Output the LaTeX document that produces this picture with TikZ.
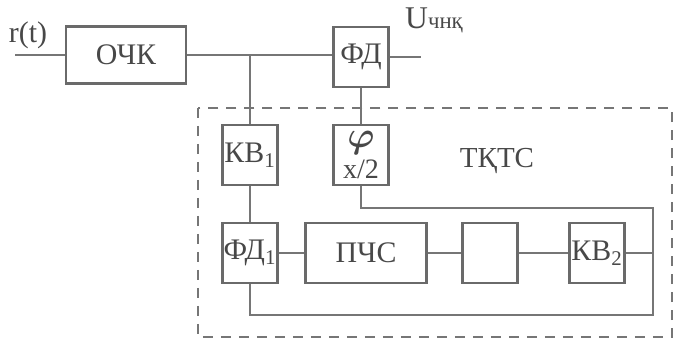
\documentclass[tikz,border=0pt]{standalone}
\usepackage{fontspec}
\setmainfont{Liberation Serif}
\usepackage{xcolor}
\usetikzlibrary{positioning}
\definecolor{boxgray}{HTML}{6A6A6A}
\definecolor{wiregray}{HTML}{767676}
\definecolor{inkgray}{HTML}{484848}
\tikzset{blk/.style={draw=boxgray,line width=1.6pt,text=inkgray,inner sep=0pt,
  minimum width=1.1cm,minimum height=1.2cm,font=\fontsize{17}{19}\selectfont,align=center},
wire/.style={draw=wiregray,line width=.8pt},
frame/.style={draw=wiregray,line width=.9pt,dash pattern=on 2mm off 1.6mm},
lbl/.style={text=inkgray,font=\fontsize{17}{19}\selectfont}}

\begin{document}
\begin{tikzpicture}[x=0.02cm,y=-0.02cm]
\useasboundingbox (0,0) rectangle (686,347);
\draw[frame] (198,108) rectangle (672,337);
\node[blk,minimum width=2.4cm,minimum height=1.14cm] (ochk) at (126,55) {ОЧК};
\node[blk] (fd) at (361,57) {ФД};
\node[blk] (kv1) at (250,155) {КВ\textsubscript{1}};
\node[blk,font=\fontsize{16}{18}\selectfont] (phi) at (361,155) {{\fontsize{21}{18}\selectfont\boldmath$\varphi$}\\x/2};
\node[blk] (fd1) at (250,253) {ФД\textsubscript{1}};
\node[blk,minimum width=2.42cm] (pchs) at (366,253) {ПЧС};
\node[blk] (emp) at (490,253) {};
\node[blk] (kv2) at (597,253) {КВ\textsubscript{2}};
\node[lbl] (rt) at (28,35) {r(t)};
\node[lbl,font=\fontsize{18}{20}\selectfont] (uchnk) at (434,20) {U{\fontsize{13}{15}\selectfont чнқ}};
\node[lbl,font=\fontsize{16.5}{18}\selectfont] (tktc) at (497,161) {ТҚТС};
\coordinate (in) at (15,55);
\coordinate (jn) at (250,55);
\coordinate (out) at (421,57);
\coordinate (rtop) at (653,208);
\coordinate (rbot) at (653,315);
\draw[wire] (in) -- (ochk);
\draw[wire] (ochk.east) -- (ochk.east -| fd.west);
\draw[wire] (jn) -- (kv1);
\draw[wire] (fd) -- (out);
\draw[wire] (fd) -- (phi);
\draw[wire] (kv1) -- (fd1);
\draw[wire] (phi.south) |- (rtop) -- (rbot) -| (fd1.south);
\draw[wire] (kv2.east) -- (kv2.east -| rtop);
\foreach \a/\b in {fd1/pchs,pchs/emp,emp/kv2} \draw[wire] (\a) -- (\b);
\end{tikzpicture}
\end{document}
